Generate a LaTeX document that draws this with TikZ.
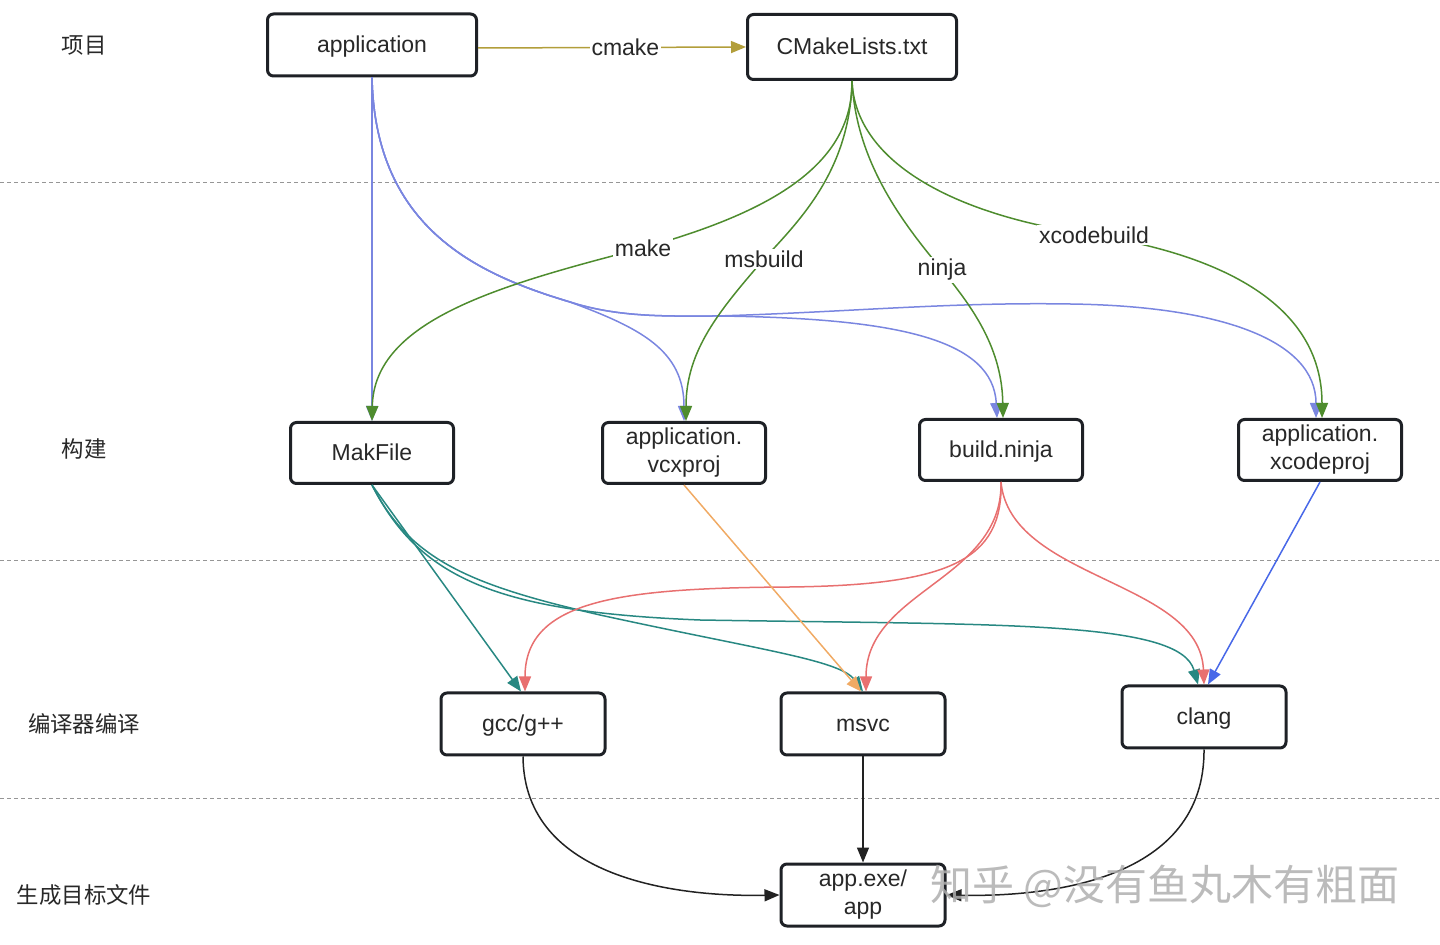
\documentclass[tikz,border=0pt]{standalone}
\usepackage{fontspec}
\setmainfont{Liberation Sans}
\newfontfamily\cjk{Noto Sans CJK SC}
\usetikzlibrary{arrows.meta}
\definecolor{boxc}{RGB}{30,33,38}
\definecolor{txtc}{RGB}{40,40,40}
\definecolor{olivec}{RGB}{178,158,58}
\definecolor{bluec}{RGB}{122,134,224}
\definecolor{greenc}{RGB}{78,140,46}
\definecolor{redc}{RGB}{232,112,112}
\definecolor{tealc}{RGB}{40,136,130}
\definecolor{orangec}{RGB}{240,170,100}
\definecolor{blueb}{RGB}{72,104,232}
\definecolor{blackc}{RGB}{34,34,34}
\definecolor{sepc}{RGB}{150,150,150}
\definecolor{wmc}{RGB}{175,175,175}
\begin{document}
\begin{tikzpicture}[x=0.5pt,y=-0.5pt,
  box/.style={draw=boxc, line width=1.5pt, rounded corners=3pt, fill=white,
    align=center, inner sep=0pt, text=txtc,
    font=\fontsize{11.5}{14}\selectfont},
  oneline/.style={text height=0.72em, text depth=0pt},
  bigbox/.style={box, minimum width=104.5pt, minimum height=31pt},
  smallbox/.style={box, minimum width=81.5pt, minimum height=30.5pt},
  lane/.style={text=txtc, font=\cjk\fontsize{11.2}{13}\selectfont},
  lbl/.style={fill=white, inner sep=1pt, text=txtc, font=\fontsize{11.5}{13}\selectfont},
  conn/.style={line width=0.75pt, -{Triangle[length=7.5pt,width=6pt]}},
  sep/.style={draw=sepc, line width=0.5pt, dash pattern=on 2pt off 1.5pt}
]
\useasboundingbox (0,0) rectangle (1440,945);

% lane separators
\coordinate (s1a) at (0,183); \coordinate (s1b) at (1440,183);
\coordinate (s2a) at (0,561); \coordinate (s2b) at (1440,561);
\coordinate (s3a) at (0,798); \coordinate (s3b) at (1440,798);
\draw[sep] (s1a) -- (s1b);
\draw[sep] (s2a) -- (s2b);
\draw[sep] (s3a) -- (s3b);

% lane labels
\node[lane] (l1) at (84,45) {项目};
\node[lane] (l2) at (84,449) {构建};
\node[lane] (l3) at (84,724) {编译器编译};
\node[lane] (l4) at (84,895) {生成目标文件};

% nodes
\node[bigbox, oneline] (app) at (372,45) {application};
\node[bigbox, oneline, minimum height=32.5pt] (cml) at (852,47) {CMakeLists.txt};
\node[smallbox, oneline] (mk) at (372,453) {MakFile};
\node[smallbox] (vcx) at (684,453) {application.\\vcxproj};
\node[smallbox, oneline] (nin) at (1001,450) {build.ninja};
\node[smallbox] (xc) at (1320,450) {application.\\xcodeproj};
\node[smallbox, oneline, minimum width=82pt, minimum height=31pt] (gcc) at (523,724) {gcc/g++};
\node[smallbox, oneline, minimum width=82pt, minimum height=31pt] (msvc) at (863,724) {msvc};
\node[smallbox, oneline, minimum width=82pt, minimum height=31pt] (clang) at (1204,717) {clang};
\node[smallbox, minimum width=82pt, minimum height=31pt] (out) at (863,895) {app.exe/\\app};

% cmake
\draw[conn, draw=olivec] ([yshift=-1.5pt]app.east) -- node[lbl, pos=0.55]{cmake} (cml.west);

% blue from application
\draw[conn, draw=bluec] (app.south) -- (mk.north);
\draw[conn, draw=bluec] (app.south) .. controls (375,230) and (480,275) .. (570,302)
  .. controls (640,328) and (684,350) .. (vcx.north);
\draw[conn, draw=bluec] (app.south) .. controls (375,230) and (480,275) .. (570,302)
  .. controls (620,318) and (670,316) .. (717,316)
  .. controls (900,318) and (993,340) .. ([xshift=-2pt]nin.north);
\draw[conn, draw=bluec] (app.south) .. controls (375,230) and (480,275) .. (570,302)
  .. controls (620,318) and (670,316) .. (717,316)
  .. controls (850,312) and (950,302) .. (1070,304)
  .. controls (1220,306) and (1316,340) .. ([xshift=-2pt]xc.north);

% green from CMakeLists
\draw[conn, draw=greenc] (cml.south) .. controls (853,170) and (760,215) .. (643,248)
  node[lbl]{make}
  .. controls (500,285) and (374,320) .. (mk.north);
\draw[conn, draw=greenc] (cml.south) .. controls (850,170) and (800,220) .. (764,259)
  node[lbl]{msbuild}
  .. controls (720,310) and (686,350) .. ([xshift=1pt]vcx.north);
\draw[conn, draw=greenc] (cml.south) .. controls (856,160) and (900,220) .. (942,270)
  node[lbl]{ninja}
  .. controls (975,310) and (1002,350) .. ([xshift=1pt]nin.north);
\draw[conn, draw=greenc] (cml.south) .. controls (855,160) and (950,215) .. (1094,235)
  node[lbl]{xcodebuild}
  .. controls (1250,260) and (1322,320) .. ([xshift=1pt]xc.north);

% teal from MakFile
\draw[conn, draw=tealc] (mk.south) -- ([xshift=-1pt]gcc.north);
\draw[conn, draw=tealc] (mk.south) .. controls (410,560) and (470,585) .. (600,615)
  .. controls (760,650) and (840,660) .. (msvc.north);
\draw[conn, draw=tealc] (mk.south) .. controls (420,580) and (500,612) .. (700,620)
  .. controls (1000,625) and (1180,620) .. ([xshift=-3pt]clang.north);

% red from build.ninja
\draw[conn, draw=redc] (nin.south) .. controls (1003,560) and (950,585) .. (790,587)
  .. controls (620,588) and (525,600) .. ([xshift=1pt]gcc.north);
\draw[conn, draw=redc] (nin.south) .. controls (1003,580) and (866,590) .. ([xshift=1.5pt]msvc.north);
\draw[conn, draw=redc] (nin.south) .. controls (1010,580) and (1200,580) .. (clang.north);

% orange from vcxproj
\draw[conn, draw=orangec] (vcx.south) -- ([xshift=-1pt]msvc.north);

% blue from xcodeproj
\draw[conn, draw=blueb] (xc.south) -- ([xshift=2pt]clang.north);

% compilers to output
\draw[conn, draw=blackc] (gcc.south) .. controls (524,880) and (680,897) .. (out.west);
\draw[conn, draw=blackc] (msvc.south) -- (out.north);
\draw[conn, draw=blackc] (clang.south) .. controls (1205,880) and (1050,897) .. (out.east);

% watermark
\node[text=wmc, font=\cjk\fontsize{21}{24}\selectfont, opacity=0.85] (wm) at (1165,886) {知乎 @没有鱼丸木有粗面};
\end{tikzpicture}
\end{document}
